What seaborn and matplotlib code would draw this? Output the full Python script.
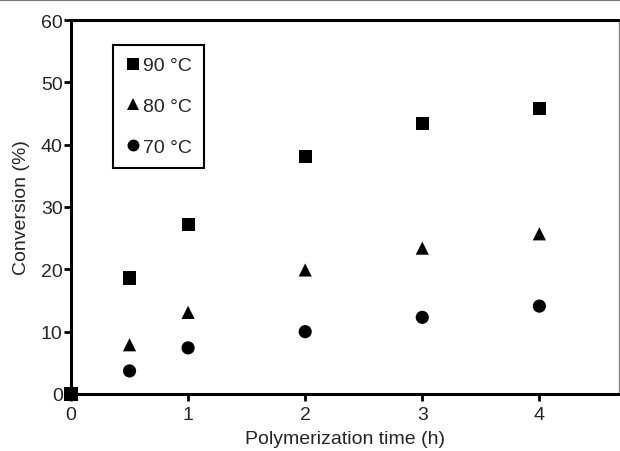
import matplotlib
matplotlib.use("Agg")
import matplotlib.pyplot as plt
from matplotlib.lines import Line2D
import seaborn as sns
import pandas as pd

times = [0, 0.5, 1, 2, 3, 4]
conv_70 = [0, 3.7, 7.4, 10.0, 12.3, 14.1]
conv_80 = [0, 7.9, 13.1, 19.9, 23.4, 25.7]
conv_90 = [0, 18.6, 27.2, 38.1, 43.4, 45.8]
labels = ["90 °C", "80 °C", "70 °C"]

df = pd.concat([
    pd.DataFrame({"time": times, "conv": conv_70, "temp": "70 °C"}),
    pd.DataFrame({"time": times, "conv": conv_80, "temp": "80 °C"}),
    pd.DataFrame({"time": times, "conv": conv_90, "temp": "90 °C"}),
], ignore_index=True)

sns.set_style("ticks")
plt.rcParams["font.family"] = ["Liberation Sans", "DejaVu Sans"]

fig = plt.figure(figsize=(6.2, 4.52), dpi=100)
ax = fig.add_axes([71 / 620, 1 - 395 / 452, 548 / 620, 374 / 452])

sns.scatterplot(
    data=df, x="time", y="conv", hue="temp", style="temp",
    hue_order=labels, style_order=labels,
    palette={l: "black" for l in labels},
    markers={"90 °C": "s", "80 °C": "^", "70 °C": "o"},
    s=90, edgecolor="black", linewidth=0, clip_on=False, ax=ax, zorder=3,
)

ax.set_xlim(0, 4.68)
ax.set_ylim(0, 60)
ax.set_xticks([0, 1, 2, 3, 4])
ax.set_yticks([0, 10, 20, 30, 40, 50, 60])
ax.set_xlabel("Polymerization time (h)", fontsize=14, labelpad=5)
ax.set_ylabel("Conversion (%)", fontsize=14, labelpad=8)
ax.tick_params(axis="both", direction="out", length=5, width=2, labelsize=14,
               color="black", pad=1)
ax.tick_params(axis="x", pad=4)

for side in ["left", "bottom", "top"]:
    ax.spines[side].set_linewidth(2.2)
    ax.spines[side].set_color("black")
ax.spines["right"].set_linewidth(1)
ax.spines["right"].set_color("#888888")
ax.spines["top"].set_visible(True)
ax.spines["right"].set_visible(True)

leg = ax.legend(
    loc="upper left", bbox_to_anchor=(0.077, 0.933), borderaxespad=0,
    fontsize=14, labelspacing=1.2, handletextpad=0.15, handlelength=0.8,
    borderpad=0.6, frameon=True, fancybox=False, markerscale=0.9,
)
leg.get_frame().set_edgecolor("black")
leg.get_frame().set_linewidth(1.5)
leg.get_frame().set_alpha(1)

fig.add_artist(Line2D([0, 1], [1 - 1 / 452, 1 - 1 / 452], color="#777777",
                      linewidth=1.5, transform=fig.transFigure))

fig.savefig("out.png", dpi=100)
